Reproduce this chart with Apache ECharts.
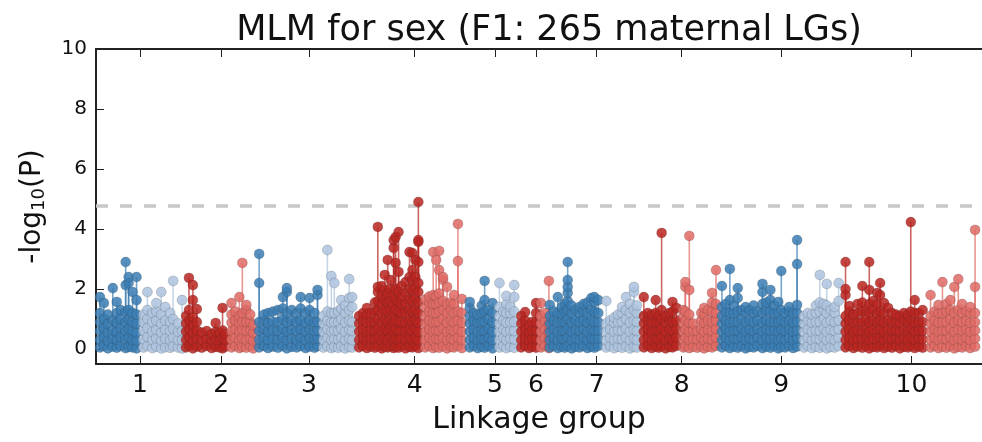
<!DOCTYPE html>
<html>
<head>
<meta charset="utf-8">
<title>MLM for sex</title>
<script src="https://cdn.jsdelivr.net/npm/echarts@6/dist/echarts.min.js"></script>
<style>
  html, body { margin: 0; padding: 0; background: #fff; }
  #chart { width: 982px; height: 442px; }
</style>
</head>
<body>
<div id="chart"></div>
<script>
// Linkage-group tick labels and their centres on the cumulative map axis
const lgLabels = ['1', '2', '3', '4', '5', '6', '7', '8', '9', '10'];
const lgCentres = [44.4, 126.7, 215.3, 322.3, 403.4, 444.9, 506.4, 592.2, 692.9, 824.6];

// Genome-wide significance threshold, -log10(P)
const threshold = 4.77;

// Markers per linkage group, two halves each (a/b).
// Each row: [map position, -log10(P) of every marker at that position]
const lg1a = [
  [4, 0.05, 0.3, 0.6, 0.9, 1.2, 1.73], [8, 0.1, 0.4, 0.7, 1.0, 1.53], [12, 0.02, 0.28, 0.55, 0.85, 1.15],
  [17, 0.08, 0.35, 0.62, 0.95, 2.03], [21, 0.04, 0.3, 0.58, 0.88, 1.2, 1.57], [25, 0.1, 0.4, 0.7, 1.0, 1.3],
  [30, 0.03, 0.32, 0.6, 0.9, 1.25, 2.13, 2.9], [33, 0.07, 0.38, 0.66, 0.98, 1.3, 2.2, 2.4],
  [37, 0.05, 0.3, 0.6, 0.9, 1.2, 1.9], [41, 0.02, 0.28, 0.55, 0.85, 1.15, 1.63, 2.4]
];
const lg1b = [
  [48, 0.05, 0.32, 0.6, 0.88, 1.15], [52, 0.1, 0.4, 0.7, 1.0, 1.3, 1.9], [57, 0.03, 0.3, 0.58, 0.9, 1.2],
  [61, 0.08, 0.36, 0.64, 0.95, 1.25, 1.53], [66, 0.02, 0.28, 0.55, 0.85, 1.15, 1.9], [70, 0.06, 0.35, 0.65, 0.95, 1.4],
  [75, 0.04, 0.3, 0.6, 0.9, 1.2], [78, 0.1, 0.38, 0.68, 1.0, 2.27], [83, 0.05, 0.3, 0.58, 0.85],
  [87, 0.02, 0.3, 0.6, 1.63]
];
const lg2a = [
  [91, 0.05, 0.3, 0.58, 0.85, 1.1], [94, 0.1, 0.38, 0.65, 0.95, 1.3, 2.37], [98, 0.02, 0.28, 0.55, 0.8, 1.05, 1.63, 2.13],
  [102, 0.08, 0.35, 0.62, 0.9, 1.33], [107, 0.04, 0.3, 0.55], [112, 0.1, 0.35, 0.6], [117, 0.03, 0.28, 0.5],
  [121, 0.07, 0.32, 0.58, 0.87], [125, 0.05, 0.3, 0.55], [128, 0.02, 0.35, 0.62, 1.37], [131, 0.08, 0.3, 0.5]
];
const lg2b = [
  [137, 0.05, 0.32, 0.6, 0.88, 1.15, 1.53], [141, 0.1, 0.38, 0.66, 0.95, 1.25], [145, 0.03, 0.3, 0.58, 0.85, 1.1, 1.73],
  [148, 0.08, 0.36, 0.64, 0.92, 1.2, 2.87], [152, 0.04, 0.3, 0.6, 0.9, 1.3, 1.47], [156, 0.1, 0.35, 0.62, 0.9, 1.15],
  [159, 0.02, 0.28, 0.55, 0.8]
];
const lg3a = [
  [165, 0.05, 0.3, 0.6, 0.9, 2.2, 3.17], [170, 0.1, 0.38, 0.66, 0.95, 1.15], [174, 0.03, 0.3, 0.58, 0.86, 1.2],
  [179, 0.08, 0.35, 0.62, 0.9, 1.25], [184, 0.04, 0.32, 0.6, 0.9, 1.3], [189, 0.1, 0.38, 0.68, 1.0, 1.35, 1.73],
  [193, 0.02, 0.3, 0.58, 0.88, 1.2, 1.9, 2.03], [198, 0.07, 0.35, 0.64, 0.95, 1.3], [203, 0.05, 0.3, 0.6, 0.9, 1.2],
  [207, 0.1, 0.38, 0.66, 0.95, 1.35, 1.73], [212, 0.03, 0.3, 0.58, 0.86, 1.2], [216, 0.08, 0.36, 0.65, 0.95, 1.3, 1.7],
  [221, 0.04, 0.32, 0.6, 0.9, 1.2], [224, 0.1, 0.35, 0.62, 0.9, 1.8, 1.97]
];
const lg3b = [
  [230, 0.05, 0.3, 0.58, 0.85, 1.1], [234, 0.1, 0.38, 0.66, 0.95, 1.25, 3.3], [238, 0.03, 0.3, 0.58, 0.88, 1.2, 2.43],
  [241, 0.08, 0.35, 0.62, 0.9, 1.2, 2.2], [245, 0.04, 0.32, 0.6, 0.9, 1.25], [248, 0.1, 0.38, 0.68, 1.0, 1.35, 1.63],
  [252, 0.02, 0.3, 0.58, 0.88, 1.2, 1.45], [256, 0.07, 0.35, 0.64, 0.95, 1.3, 1.7, 2.33], [259, 0.05, 0.3, 0.6, 0.9, 1.4, 1.73]
];
const lg4a = [
  [266, 0.05, 0.3, 0.58, 0.85, 1.1], [270, 0.1, 0.38, 0.66, 0.95, 1.2], [274, 0.03, 0.3, 0.58, 0.88, 1.15, 1.37],
  [278, 0.08, 0.35, 0.62, 0.9, 1.2], [282, 0.04, 0.32, 0.6, 0.9, 1.25, 1.55],
  [285, 0.1, 0.38, 0.68, 1.0, 1.3, 1.6, 1.9, 2.07, 4.07], [289, 0.02, 0.3, 0.58, 0.88, 1.2, 1.5, 1.8, 2.1],
  [292, 0.07, 0.35, 0.64, 0.95, 1.3, 1.63, 1.95, 2.47], [295, 0.05, 0.3, 0.6, 0.9, 1.25, 1.55, 1.85, 2.97],
  [298, 0.1, 0.38, 0.66, 0.95, 1.3, 1.6, 2.0, 2.3], [301, 0.03, 0.3, 0.58, 0.88, 1.2, 1.5, 1.8, 3.37, 3.63],
  [303, 0.08, 0.36, 0.65, 0.95, 1.3, 1.65, 2.0, 2.87, 3.73], [306, 0.04, 0.32, 0.6, 0.9, 1.25, 1.55, 1.9, 2.57, 3.9],
  [309, 0.1, 0.35, 0.62, 0.9, 1.2, 1.5, 1.73, 2.1], [313, 0.02, 0.3, 0.58, 0.88, 1.2, 1.5, 1.85, 2.23],
  [317, 0.07, 0.35, 0.64, 0.95, 1.3, 1.65, 2.0, 2.4, 3.23], [320, 0.05, 0.3, 0.6, 0.9, 1.25, 1.6, 1.95, 2.3, 2.63, 3.2],
  [323, 0.1, 0.38, 0.66, 0.95, 1.3, 1.7, 2.05, 2.4, 2.97],
  [326, 0.03, 0.3, 0.58, 0.88, 1.2, 1.55, 1.9, 2.2, 2.9, 3.57, 3.63, 4.9]
];
const lg4b = [
  [333, 0.05, 0.3, 0.58, 0.85, 1.1, 1.4, 1.65], [337, 0.1, 0.38, 0.66, 0.95, 1.25, 1.55, 1.75],
  [341, 0.03, 0.3, 0.58, 0.88, 1.2, 1.5, 1.8, 3.23], [344, 0.08, 0.35, 0.62, 0.9, 1.2, 1.5, 1.75, 2.97],
  [347, 0.04, 0.32, 0.6, 0.9, 1.25, 1.55, 1.85, 2.63, 3.27], [351, 0.1, 0.38, 0.68, 1.0, 1.3, 1.6, 2.3, 2.4],
  [355, 0.02, 0.3, 0.58, 0.88, 1.2, 1.5, 2.07], [359, 0.07, 0.35, 0.64, 0.95, 1.3, 1.55],
  [362, 0.05, 0.3, 0.6, 0.9, 1.2, 1.5, 1.8], [366, 0.1, 0.38, 0.66, 0.95, 1.25, 2.93, 4.17],
  [370, 0.03, 0.3, 0.58, 0.88, 1.2, 1.67]
];
const lg5a = [
  [378, 0.05, 0.3, 0.58, 0.85, 1.1, 1.37, 1.57], [382, 0.1, 0.38, 0.66, 0.95, 1.2], [386, 0.03, 0.3, 0.58, 0.88, 1.15],
  [390, 0.08, 0.35, 0.62, 0.9, 1.2, 1.45], [393, 0.04, 0.32, 0.6, 0.9, 1.25, 1.63, 2.27], [397, 0.1, 0.38, 0.68, 1.0, 1.3],
  [401, 0.02, 0.3, 0.58, 0.88, 1.2, 1.53]
];
const lg5b = [
  [408, 0.05, 0.3, 0.58, 0.85, 1.1, 1.4, 2.2], [412, 0.1, 0.38, 0.66, 0.95, 1.25], [415, 0.03, 0.3, 0.58, 0.88, 1.2, 1.5, 1.77],
  [419, 0.08, 0.35, 0.62, 0.9, 1.2, 1.4], [423, 0.04, 0.32, 0.6, 0.9, 1.25, 1.73, 2.13]
];
const lg6a = [
  [430, 0.05, 0.3, 0.58, 0.85, 1.1], [434, 0.1, 0.38, 0.66, 0.95, 1.23], [438, 0.03, 0.3, 0.55, 0.8],
  [441, 0.08, 0.35, 0.62, 0.9], [445, 0.04, 0.32, 0.6, 0.9, 1.2, 1.53]
];
const lg6b = [
  [450, 0.05, 0.3, 0.58, 0.85, 1.1, 1.53], [454, 0.1, 0.38, 0.66, 0.95, 1.2], [458, 0.03, 0.3, 0.55, 0.8, 2.27]
];
const lg7a = [
  [459, 0.05, 0.3, 0.58, 0.85, 1.1, 1.47], [463, 0.1, 0.38, 0.66, 0.95, 1.25], [467, 0.03, 0.3, 0.58, 0.88, 1.2, 1.73],
  [471, 0.08, 0.35, 0.62, 0.9, 1.2, 1.4], [474, 0.04, 0.32, 0.6, 0.9, 1.25, 1.5],
  [477, 0.1, 0.38, 0.68, 1.0, 1.3, 1.6, 1.87, 2.07, 2.3, 2.9], [481, 0.02, 0.3, 0.58, 0.88, 1.2, 1.45],
  [485, 0.07, 0.35, 0.64, 0.95, 1.3], [489, 0.05, 0.3, 0.6, 0.9, 1.2, 1.4], [493, 0.1, 0.38, 0.66, 0.95, 1.25, 1.5],
  [497, 0.03, 0.3, 0.58, 0.88, 1.2, 1.55], [501, 0.08, 0.36, 0.65, 0.95, 1.3, 1.7],
  [504, 0.04, 0.32, 0.6, 0.9, 1.25, 1.57, 1.73], [508, 0.1, 0.35, 0.62, 0.9, 1.2, 1.63]
];
const lg7b = [
  [516, 0.05, 0.3, 0.58, 0.85, 1.6], [520, 0.1, 0.38, 0.66, 0.95], [524, 0.03, 0.3, 0.58, 0.88, 1.05],
  [528, 0.08, 0.35, 0.62, 0.9, 1.15], [532, 0.04, 0.32, 0.6, 0.9, 1.2, 1.4], [536, 0.1, 0.38, 0.68, 1.0, 1.3, 1.73],
  [540, 0.02, 0.3, 0.58, 0.88, 1.2, 1.5], [544, 0.07, 0.35, 0.64, 0.95, 1.3, 1.9, 2.07], [547, 0.05, 0.3, 0.6, 0.9, 1.2, 1.45]
];
const lg8a = [
  [554, 0.05, 0.3, 0.58, 0.85, 1.1, 1.73], [558, 0.1, 0.38, 0.66, 0.95, 1.2], [562, 0.03, 0.3, 0.58, 0.88, 1.15],
  [566, 0.08, 0.35, 0.62, 0.9, 1.2, 1.63], [569, 0.04, 0.32, 0.6, 0.9, 1.1], [572, 0.1, 0.38, 0.68, 1.0, 1.3, 3.87],
  [576, 0.02, 0.3, 0.58, 0.88, 1.1], [580, 0.07, 0.35, 0.64, 0.95, 1.2], [583, 0.05, 0.3, 0.6, 0.9, 1.25, 1.57],
  [587, 0.1, 0.38, 0.66, 0.95, 1.37]
];
const lg8b = [
  [594, 0.05, 0.3, 0.58, 0.85, 1.1, 1.3], [596, 0.1, 0.38, 0.66, 0.95, 1.25, 2.07, 2.23],
  [600, 0.03, 0.3, 0.58, 0.88, 1.15, 1.97, 3.77], [604, 0.08, 0.35, 0.62, 0.85], [608, 0.04, 0.32, 0.6],
  [612, 0.1, 0.38, 0.66, 0.95, 1.2], [615, 0.02, 0.3, 0.58, 0.88, 1.15, 1.37], [619, 0.07, 0.35, 0.64, 0.95, 1.3],
  [623, 0.05, 0.3, 0.6, 0.9, 1.25, 1.55, 1.87], [627, 0.1, 0.38, 0.66, 0.95, 1.2, 1.5, 2.63]
];
const lg9a = [
  [633, 0.05, 0.3, 0.58, 0.85, 1.1, 1.4, 2.1], [637, 0.1, 0.38, 0.66, 0.95, 1.25, 1.5],
  [641, 0.03, 0.3, 0.58, 0.88, 1.2, 1.63, 2.67], [645, 0.08, 0.35, 0.62, 0.9, 1.2, 1.45],
  [649, 0.04, 0.32, 0.6, 0.9, 1.25, 1.7, 2.03], [653, 0.1, 0.38, 0.68, 1.0, 1.3], [657, 0.02, 0.3, 0.58, 0.88, 1.2, 1.4],
  [661, 0.07, 0.35, 0.64, 0.95, 1.3], [665, 0.05, 0.3, 0.6, 0.9, 1.2, 1.45], [669, 0.1, 0.38, 0.66, 0.95, 1.25],
  [674, 0.03, 0.3, 0.58, 0.88, 1.2, 1.5, 1.9, 2.17], [678, 0.08, 0.36, 0.65, 0.95, 1.3, 1.55],
  [682, 0.04, 0.32, 0.6, 0.9, 1.25, 1.63, 1.97], [686, 0.1, 0.35, 0.62, 0.9, 1.2, 1.45],
  [690, 0.02, 0.3, 0.58, 0.88, 1.2, 1.57], [693, 0.07, 0.35, 0.64, 0.95, 1.3, 2.6], [697, 0.05, 0.3, 0.6, 0.9, 1.2],
  [701, 0.1, 0.38, 0.66, 0.95, 1.25, 1.4], [705, 0.03, 0.3, 0.58, 0.88, 1.2],
  [709, 0.08, 0.35, 0.62, 0.9, 1.2, 1.47, 2.83, 3.63]
];
const lg9b = [
  [716, 0.05, 0.3, 0.58, 0.85, 1.1], [720, 0.1, 0.38, 0.66, 0.95, 1.2], [724, 0.03, 0.3, 0.58, 0.88, 1.15],
  [728, 0.08, 0.35, 0.62, 0.9, 1.2, 1.45], [732, 0.04, 0.32, 0.6, 0.9, 1.25, 1.55, 2.47], [736, 0.1, 0.38, 0.68, 1.0, 1.3, 1.5],
  [739, 0.02, 0.3, 0.58, 0.88, 1.2, 1.45, 2.17], [743, 0.07, 0.35, 0.64, 0.95, 1.3], [747, 0.05, 0.3, 0.6, 0.9, 1.2, 1.4],
  [751, 0.1, 0.38, 0.66, 0.95, 1.6, 2.2]
];
const lg10a = [
  [758, 0.05, 0.3, 0.58, 0.85, 1.1, 1.8, 2.0, 2.9], [762, 0.1, 0.38, 0.66, 0.95, 1.25, 1.43], [766, 0.03, 0.3, 0.58, 0.88, 1.15],
  [770, 0.08, 0.35, 0.62, 0.9, 1.2, 1.5], [775, 0.04, 0.32, 0.6, 0.9, 1.25, 1.55, 2.1], [779, 0.1, 0.38, 0.68, 1.0, 1.3],
  [782, 0.02, 0.3, 0.58, 0.88, 1.2, 1.5, 1.97, 2.9], [786, 0.07, 0.35, 0.64, 0.95, 1.3, 1.6],
  [790, 0.05, 0.3, 0.6, 0.9, 1.2, 1.5, 1.87], [793, 0.1, 0.38, 0.66, 0.95, 1.25, 1.8, 2.2],
  [797, 0.03, 0.3, 0.58, 0.88, 1.2, 1.53], [801, 0.08, 0.36, 0.65, 0.95, 1.37], [805, 0.04, 0.32, 0.6, 0.9, 1.2],
  [809, 0.1, 0.35, 0.62, 0.9, 1.15], [813, 0.02, 0.3, 0.58, 0.88, 1.1], [817, 0.07, 0.35, 0.64, 0.95, 1.2],
  [821, 0.05, 0.3, 0.6, 0.9, 1.15], [824, 0.1, 0.38, 0.66, 0.95, 1.25, 4.23], [828, 0.03, 0.3, 0.58, 0.88, 1.2, 1.63],
  [832, 0.08, 0.35, 0.62, 0.9, 1.2], [836, 0.04, 0.32, 0.6, 0.9, 1.3]
];
const lg10b = [
  [844, 0.05, 0.3, 0.58, 0.85, 1.1, 1.8], [848, 0.1, 0.38, 0.66, 0.95, 1.25], [852, 0.03, 0.3, 0.58, 0.88, 1.2, 1.47],
  [856, 0.08, 0.35, 0.62, 0.9, 1.2, 2.23], [860, 0.04, 0.32, 0.6, 0.9, 1.25, 1.5], [864, 0.1, 0.38, 0.68, 1.0, 1.3, 1.63],
  [868, 0.02, 0.3, 0.58, 0.88, 1.2, 2.07], [872, 0.07, 0.35, 0.64, 0.95, 1.3, 2.33], [876, 0.05, 0.3, 0.6, 0.9, 1.2, 1.5],
  [880, 0.1, 0.38, 0.66, 0.95, 1.25], [884, 0.03, 0.3, 0.58, 0.88, 1.2, 1.4], [889, 0.08, 0.35, 0.62, 0.9, 1.2, 2.07, 3.97]
];

const segments = [lg1a, lg1b, lg2a, lg2b, lg3a, lg3b, lg4a, lg4b, lg5a, lg5b,
                  lg6a, lg6b, lg7a, lg7b, lg8a, lg8b, lg9a, lg9b, lg10a, lg10b];

// Odd groups in blues, even groups in reds; first half dark, second half light
const palette = {
  blue:  ['#3a7db3', '#adc3de'],
  red:   ['#b92520', '#df6a64']
};
function segColour(i) {
  const lg = Math.floor(i / 2);
  const family = lg % 2 === 0 ? palette.blue : palette.red;
  return family[i % 2];
}

// Flatten "[position, p1, p2, ...]" rows into [position, p] points
function toPoints(rows) {
  const pts = [];
  rows.forEach(r => { for (let k = 1; k < r.length; k++) pts.push([r[0], r[k]]); });
  return pts;
}

const series = [];
segments.forEach((rows, i) => {
  const pts = toPoints(rows);
  const colour = segColour(i);
  // stems from 0 to each marker
  series.push({
    type: 'custom',
    silent: true,
    z: 2 + i * 2,
    data: pts,
    renderItem: (params, api) => {
      const top = api.coord([api.value(0), api.value(1)]);
      const base = api.coord([api.value(0), 0]);
      return {
        type: 'line',
        shape: { x1: top[0], y1: top[1], x2: base[0], y2: base[1] },
        style: { stroke: colour, lineWidth: 1.6, opacity: 0.7 }
      };
    }
  });
  series.push({
    type: 'scatter',
    silent: true,
    z: 3 + i * 2,
    symbol: 'circle',
    symbolSize: 10,
    data: pts,
    itemStyle: {
      color: colour,
      opacity: 0.85,
      borderColor: 'rgba(40,40,40,0.35)',
      borderWidth: 0.6
    }
  });
});

// significance threshold
series.push({
  type: 'line',
  silent: true,
  z: 1,
  data: [],
  markLine: {
    silent: true,
    symbol: 'none',
    label: { show: false },
    lineStyle: { color: '#c8c8c8', type: [12, 12], width: 3.5 },
    data: [{ yAxis: threshold }]
  }
});

const chart = echarts.init(document.getElementById('chart'), null, { renderer: 'canvas' });
const fontFamily = "'DejaVu Sans', sans-serif";
const yTicks = [0, 2, 4, 6, 8, 10];

chart.setOption({
  animation: false,
  backgroundColor: '#fff',
  title: {
    text: 'MLM for sex (F1: 265 maternal LGs)',
    left: 544,
    top: 8,
    textAlign: 'center',
    textStyle: { fontFamily, fontSize: 35, fontWeight: 'normal', color: '#111' }
  },
  grid: { left: 96, top: 49, width: 896, height: 315, containLabel: false },
  xAxis: [
    {
      type: 'value',
      position: 'bottom',
      min: 0,
      max: 896,
      name: 'Linkage group',
      nameLocation: 'middle',
      nameGap: 41,
      nameTextStyle: { fontFamily, fontSize: 30, color: '#111' },
      axisLine: { show: true, onZero: false, lineStyle: { color: '#222', width: 2 } },
      axisTick: { show: true, inside: true, length: 8, customValues: lgCentres, lineStyle: { color: '#222', width: 1 } },
      axisLabel: {
        show: true, margin: 9, customValues: lgCentres,
        fontFamily, fontSize: 25, color: '#111',
        formatter: v => lgLabels[lgCentres.indexOf(v)]
      },
      splitLine: { show: false }
    },
    {
      type: 'value',
      position: 'top',
      min: 0,
      max: 896,
      axisLine: { show: true, onZero: false, lineStyle: { color: '#222', width: 2 } },
      axisTick: { show: true, inside: true, length: 8, customValues: lgCentres, lineStyle: { color: '#222', width: 1 } },
      axisLabel: { show: false },
      splitLine: { show: false }
    }
  ],
  yAxis: {
    type: 'value',
    min: -0.5,
    max: 10,
    name: '-log{sub|10}(P)',
    nameLocation: 'middle',
    nameRotate: 90,
    nameGap: 48,
    nameTextStyle: {
      fontFamily, fontSize: 28, color: '#111',
      rich: { sub: { fontFamily, fontSize: 18, color: '#111', verticalAlign: 'bottom', padding: [12, 0, 0, 0] } }
    },
    axisLine: { show: true, onZero: false, lineStyle: { color: '#222', width: 2 } },
    axisTick: { show: true, inside: true, length: 8, customValues: yTicks, lineStyle: { color: '#222', width: 1 } },
    axisLabel: { show: true, margin: 9, customValues: yTicks, fontFamily, fontSize: 20, color: '#111' },
    splitLine: { show: false }
  },
  series
});
</script>
</body>
</html>
